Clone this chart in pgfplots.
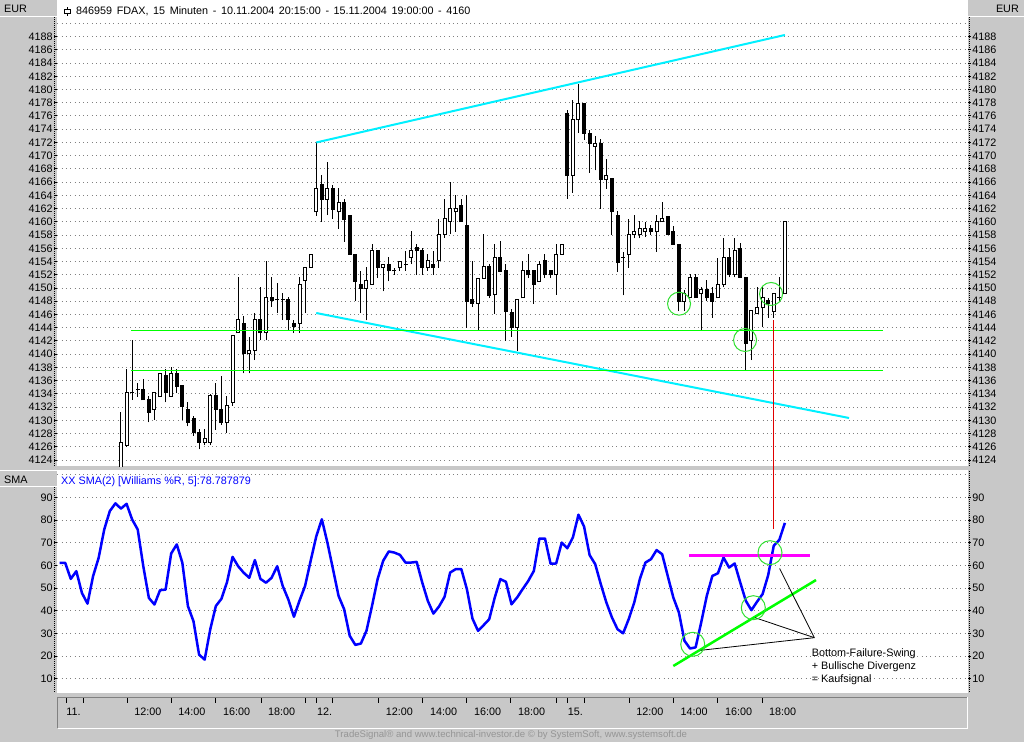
\documentclass[border=0pt]{standalone}
\usepackage{fontspec}
\setmainfont{Liberation Sans}
\usepackage{pgfplots}
\pgfplotsset{compat=1.18}
\usepackage{pgfplotstable}

\definecolor{bg}{HTML}{C8C8C8}
\definecolor{gridc}{HTML}{808080}
\definecolor{cyanc}{HTML}{00F0FF}
\definecolor{limec}{HTML}{00FF00}
\definecolor{circc}{HTML}{30E030}
\definecolor{magc}{HTML}{FF00FF}
\definecolor{oscblue}{HTML}{0000FF}
\definecolor{redc}{HTML}{E00000}
\definecolor{foot}{HTML}{959595}
\newcommand\lab{\fontsize{10.8bp}{13bp}\selectfont}

\pgfplotstableread{
i o h l c
11 4120.0 4131.3 4118.0 4126.7
12 4126.2 4137.8 4126.0 4134.2
13 4134.2 4142.1 4133.1 4134.2
14 4134.7 4135.6 4133.6 4134.7
15 4134.7 4136.2 4133.1 4133.1
16 4133.2 4133.7 4129.7 4131.2
17 4131.6 4134.2 4130.1 4134.2
18 4133.6 4137.1 4133.6 4137.1
19 4136.7 4137.7 4132.7 4134.2
20 4133.6 4138.1 4133.6 4137.1
21 4137.1 4137.7 4134.1 4135.1
22 4135.2 4135.2 4130.1 4132.1
23 4131.7 4132.7 4129.1 4129.7
24 4130.2 4130.7 4127.7 4128.2
25 4128.2 4128.7 4125.6 4126.7
26 4126.7 4128.7 4126.2 4127.2
27 4126.7 4134.0 4126.2 4133.7
28 4133.7 4135.6 4128.6 4131.7
29 4131.7 4136.7 4129.3 4129.7
30 4129.7 4133.7 4128.1 4132.2
31 4132.7 4142.8 4132.2 4142.8
32 4143.2 4151.7 4143.2 4145.2
33 4144.7 4145.7 4137.1 4140.1
34 4140.1 4142.6 4137.1 4140.6
35 4140.6 4146.2 4139.1 4145.2
36 4145.2 4150.2 4142.1 4143.2
37 4143.2 4154.1 4142.1 4148.6
38 4148.6 4151.7 4147.2 4148.1
39 4148.2 4150.7 4146.2 4148.2
40 4148.2 4149.2 4145.2 4148.2
41 4148.2 4148.7 4143.7 4145.2
42 4144.7 4145.2 4143.2 4144.2
43 4144.7 4151.7 4143.2 4150.6
44 4151.1 4153.1 4146.2 4153.1
45 4153.1 4155.1 4153.1 4155.1
46 4161.5 4172.0 4160.9 4165.1
47 4165.6 4167.1 4160.0 4163.4
48 4163.4 4169.0 4161.0 4165.1
49 4165.1 4165.6 4160.5 4161.9
50 4161.5 4165.1 4158.9 4162.9
51 4162.9 4163.4 4157.0 4160.4
52 4161.0 4161.0 4155.1 4155.1
53 4155.1 4155.1 4148.1 4151.0
54 4150.5 4152.5 4146.2 4150.0
55 4150.0 4153.2 4145.1 4151.2
56 4150.5 4156.6 4150.5 4155.6
57 4155.6 4155.6 4151.5 4153.1
58 4153.1 4153.6 4149.5 4153.6
59 4153.6 4154.7 4151.0 4152.6
60 4152.6 4153.1 4152.0 4152.6
61 4153.1 4154.0 4152.6 4154.0
62 4153.6 4155.6 4152.6 4153.6
63 4154.6 4158.6 4153.6 4155.6
64 4156.1 4156.6 4152.0 4155.6
65 4155.6 4156.1 4152.0 4153.1
66 4153.1 4155.1 4152.6 4154.1
67 4153.6 4155.6 4152.0 4153.1
68 4154.1 4160.5 4153.1 4158.1
69 4158.1 4163.5 4157.6 4160.5
70 4160.1 4166.1 4158.1 4162.0
71 4161.5 4164.0 4158.5 4162.0
72 4162.5 4163.5 4160.0 4160.0
73 4159.5 4164.0 4144.0 4148.0
74 4148.2 4154.1 4147.1 4147.7
75 4147.7 4151.5 4143.6 4151.5
76 4151.5 4158.1 4151.5 4153.2
77 4153.2 4153.6 4148.5 4148.9
78 4149.0 4156.6 4146.1 4154.6
79 4154.6 4157.1 4152.5 4152.5
80 4152.6 4153.6 4142.0 4146.5
81 4146.3 4146.8 4142.6 4144.0
82 4144.1 4148.2 4140.5 4148.2
83 4148.5 4154.1 4148.5 4152.6
84 4152.6 4155.1 4151.5 4152.0
85 4152.6 4152.6 4147.6 4150.5
86 4151.0 4154.1 4151.0 4153.6
87 4154.1 4155.1 4151.5 4152.0
88 4152.6 4152.6 4151.5 4152.0
89 4152.0 4156.6 4149.0 4155.1
90 4155.1 4156.6 4155.1 4156.6
91 4176.4 4176.9 4163.5 4167.0
92 4167.0 4178.4 4164.4 4175.4
93 4175.4 4180.8 4173.4 4177.9
94 4177.9 4177.9 4172.4 4173.4
95 4173.4 4173.9 4167.4 4171.9
96 4171.4 4173.0 4167.8 4171.9
97 4171.9 4172.5 4162.0 4166.4
98 4166.4 4169.5 4165.0 4167.0
99 4166.5 4166.5 4158.0 4161.5
100 4161.0 4161.6 4152.4 4153.9
101 4154.6 4155.5 4148.9 4154.6
102 4155.1 4160.5 4153.1 4158.1
103 4158.1 4161.0 4157.5 4158.6
104 4158.1 4160.1 4157.5 4159.0
105 4158.5 4160.0 4157.7 4159.0
106 4159.0 4159.5 4158.0 4158.5
107 4158.5 4161.0 4155.5 4160.0
108 4160.0 4163.0 4160.0 4160.5
109 4160.8 4160.8 4158.1 4158.1
110 4158.5 4159.4 4156.6 4156.6
111 4156.6 4156.6 4146.5 4148.0
112 4148.0 4149.7 4146.5 4149.1
113 4148.5 4152.1 4148.5 4151.6
114 4151.6 4152.1 4148.5 4148.5
115 4149.1 4150.1 4143.7 4149.7
116 4149.7 4151.2 4148.0 4148.5
117 4149.1 4150.1 4145.5 4148.0
118 4148.5 4154.6 4148.5 4150.6
119 4150.6 4157.6 4150.1 4154.6
120 4154.6 4156.1 4151.6 4152.1
121 4152.1 4157.5 4151.6 4155.6
122 4156.0 4156.8 4151.6 4151.6
123 4151.6 4151.6 4137.6 4141.6
124 4142.1 4146.6 4139.1 4146.6
125 4146.1 4150.1 4146.1 4147.0
126 4147.0 4150.1 4144.1 4148.5
127 4148.1 4148.5 4145.5 4147.6
128 4146.5 4149.1 4145.5 4149.1
129 4148.6 4151.6 4148.0 4148.6
130 4149.1 4160.0 4149.1 4160.0
}\candles

\pgfplotstableread{
i v
0 61.2
1 61.2
2 54.1
3 57.5
4 47.9
5 43.2
6 55.3
7 63.4
8 75.9
9 84.0
10 87.4
11 85.1
12 87.2
13 80.3
14 75.9
15 59.7
16 45.7
17 42.8
18 49.1
19 49.4
20 65.3
21 69.3
22 61.2
23 42.1
24 35.4
25 20.7
26 18.5
27 31.8
28 42.1
29 45.3
30 52.6
31 63.8
32 59.7
33 56.8
34 54.6
35 62.4
36 54.1
37 52.4
38 54.6
39 59.7
40 50.9
41 45.0
42 37.4
43 44.5
44 51.0
45 62.1
46 72.8
47 80.4
48 70.1
49 58.4
50 46.6
51 40.7
52 29.0
53 25.0
54 25.6
55 31.2
56 42.2
57 54.0
58 62.1
59 66.2
60 65.7
61 64.7
62 61.3
63 61.3
64 61.6
65 52.5
66 44.4
67 38.8
68 41.9
69 46.2
70 56.9
71 58.4
72 58.4
73 49.6
74 36.6
75 31.2
76 33.7
77 36.3
78 45.9
79 54.0
80 52.8
81 42.9
82 45.9
83 49.6
84 53.2
85 57.6
86 71.9
87 71.9
88 60.8
89 60.9
90 70.1
91 67.6
92 72.4
93 82.4
94 77.2
95 64.6
96 60.6
97 51.8
98 43.7
99 37.1
100 31.9
101 30.1
102 36.3
103 43.7
104 54.0
105 61.3
106 62.8
107 66.8
108 65.0
109 55.4
110 45.9
111 39.3
112 26.8
113 23.4
114 23.9
115 34.9
116 46.6
117 55.4
118 56.6
119 63.5
120 59.1
121 60.9
122 52.5
123 44.4
124 40.3
125 44.0
126 47.4
127 55.7
128 68.7
129 71.3
130 78.8
}\osc

\pgfplotsset{
  panel/.style={scale only axis, width=910.23bp, xmin=-0.4, xmax=162.75,
    axis line style={draw=none}, xtick=\empty,
    tick style={black, line width=1bp}, tick align=outside, major tick length=3bp,
    scaled y ticks=false,
    yticklabel style={font=\lab, inner sep=0pt},
    /pgf/number format/1000 sep={},
    /pgf/number format/assume math mode=true},
  gridsty/.style={ymajorgrids, grid style={gridc, line width=1bp, dash pattern=on 1bp off 3.3bp}},
}

\begin{document}
\begin{tikzpicture}[x=1bp,y=1bp]
\useasboundingbox (0,0) rectangle (1024,742);
\fill[bg] (0,0) rectangle (1024,742);
\fill[white] (57.4,275.5) rectangle (967.6,742);
\fill[white] (57.4,49) rectangle (967.6,272);
% header cells
\draw[white, line width=1bp] (0,725.5) -- (56.5,725.5);
\draw[white, line width=1bp] (968,725.5) -- (1024,725.5);
\draw[white, line width=1bp] (0,271.5) -- (56.5,271.5);
\draw[white, line width=1bp] (0,255.5) -- (56.5,255.5);
\node[anchor=base west, inner sep=0pt, font=\lab] at (4,729.5) {EUR};
\node[anchor=base east, inner sep=0pt, font=\lab] at (1019,729.5) {EUR};
\node[anchor=base west, inner sep=0pt, font=\lab] at (4,258.7) {SMA};
% dotted strip lines
\draw[black, line width=1bp, dash pattern=on 1bp off 1bp] (54.5,724.5) -- (54.5,276);
\draw[black, line width=1bp, dash pattern=on 1bp off 1bp] (54.5,254.5) -- (54.5,49.5);
\draw[black, line width=1bp, dash pattern=on 1bp off 1bp] (969.5,724.5) -- (969.5,276);
\draw[black, line width=1bp, dash pattern=on 1bp off 1bp] (969.5,271) -- (969.5,49.5);
% title
\draw[line width=1bp] (67.7,734.7) -- (67.7,726);
\draw[line width=1bp, fill=white] (64.8,732.7) rectangle (70.8,728.7);
\node[anchor=base west, inner sep=0pt, font=\lab] at (76,727.3) {\spaceskip=4.6bp 846959 FDAX, 15 Minuten - 10.11.2004 20:15:00 - 15.11.2004 19:00:00 - 4160};

% ===== top panel =====
\begin{axis}[panel, gridsty, at={(57.37bp,275.5bp)}, anchor=south west, height=466.5bp,
  ymin=4123.02, ymax=4193.54, ytick={4124,4126,...,4188},
  extra y ticks={4190}, extra y tick labels={}, extra y tick style={major tick length=0pt},
  ytick pos=left, yticklabel pos=left, yticklabel style={anchor=east, xshift=-1.5bp}]
% wicks
\addplot[black, line width=1bp, line cap=butt, mark=none, forget plot,
  quiver={u=0, v=\thisrow{h}-\thisrow{l}}] table[x=i, y=l] \candles;
% bodies (outer, black)
\addplot[black, line width=4bp, line cap=butt, mark=none, forget plot,
  quiver={u=0, v=abs(\thisrow{c}-\thisrow{o})+0.152}] table[x=i, y expr={min(\thisrow{o},\thisrow{c})-0.076}] \candles;
% bodies (inner, white for rising candles)
\addplot[white, line width=2bp, line cap=butt, mark=none, forget plot,
  quiver={u=0, v=\thisrow{c}-\thisrow{o}-0.152}] table[x=i, y expr={\thisrow{c}-\thisrow{o}>0.35 ? \thisrow{o}+0.076 : nan}] \candles;
\addplot[cyanc, line width=2bp] coordinates {(46,4172.0) (130,4188.25)};
\addplot[cyanc, line width=2bp] coordinates {(46,4146.22) (141.5,4130.35)};
\addplot[limec, line width=1.6bp] coordinates {(12.8,4143.6) (147.6,4143.6)};
\addplot[limec, line width=1bp] coordinates {(12.8,4137.55) (80.2,4137.55)};
\addplot[limec, line width=1.6bp] coordinates {(80.2,4137.55) (147.6,4137.55)};
\addplot[only marks, mark=o, mark size=11.5bp, mark options={circc, line width=1bp}] coordinates {(111.03,4147.63) (122.86,4142.14) (127.52,4149.1)};
\end{axis}
\begin{axis}[panel, at={(57.37bp,275.5bp)}, anchor=south west, height=466.5bp,
  ymin=4123.02, ymax=4193.54, ytick={4124,4126,...,4188},
  ytick pos=right, yticklabel pos=right, yticklabel style={anchor=west, xshift=1.5bp}]
\end{axis}

% ===== bottom panel =====
\begin{axis}[panel, gridsty, at={(57.37bp,49bp)}, anchor=south west, height=223bp,
  ymin=3.78, ymax=102.13, ytick={10,20,...,90},
  extra y ticks={100}, extra y tick labels={}, extra y tick style={major tick length=0pt},
  ytick pos=left, yticklabel pos=left, yticklabel style={anchor=east, xshift=-1.5bp}, clip=false]
\addplot[oscblue, line width=2.5bp, line join=round] table[x=i, y=v] \osc;
\addplot[magc, line width=3bp] coordinates {(112.9,64.2) (134.5,64.2)};
\addplot[limec, line width=2.5bp] coordinates {(110.0,15.69) (135.58,53.6)};
\addplot[black, line width=0.8bp] coordinates {(129.05,58.69) (135.28,28.17)};
\addplot[black, line width=0.8bp] coordinates {(124.65,36.99) (135.28,28.17)};
\addplot[black, line width=0.8bp] coordinates {(114.91,22.61) (135.28,28.17)};
\addplot[only marks, mark=o, mark size=12bp, mark options={circc, line width=1bp}] coordinates {(113.48,25.26) (124.34,41.4) (127.33,65.66)};
\addplot[redc, line width=1bp] coordinates {(128,76.1) (128,168.3)};
\end{axis}
\begin{axis}[panel, at={(57.37bp,49bp)}, anchor=south west, height=223bp,
  ymin=3.78, ymax=102.13, ytick={10,20,...,90},
  ytick pos=right, yticklabel pos=right, yticklabel style={anchor=west, xshift=1.5bp}]
\end{axis}

\node[anchor=base west, inner sep=0pt, font=\lab, text=oscblue] at (61,257.7) {XX SMA(2) [Williams \%R, 5]:78.787879};
\node[anchor=north west, align=left, inner sep=0pt, font=\lab] at (811.7,93.7) {Bottom-Failure-Swing\\+ Bullische Divergenz\\= Kaufsignal};

% ===== date strip =====
\draw[gridc, line width=1bp] (57.5,13.5) -- (57.5,44.5) -- (967.5,44.5);
\draw[white, line width=1bp] (57.5,13.5) -- (967.5,13.5) -- (967.5,44.5);
\begin{axis}[scale only axis, width=910.23bp, height=30bp, at={(57.37bp,14bp)}, anchor=south west,
  xmin=-0.4, xmax=162.75, ymin=0, ymax=1, axis line style={draw=none}, ytick=\empty,
  xtick={1.2,4.2,12.1,20,28,36.1,44.1,46.1,49,57.2,65.1,73,80.9,89.1,91.05,94.1,102.1,110,118,125.9},
  xticklabels={{11.},{},{\hspace*{7bp}12:00},{\hspace*{7bp}14:00},{\hspace*{7bp}16:00},{\hspace*{7bp}18:00},{},{12.},{},{\hspace*{7bp}12:00},{\hspace*{7bp}14:00},{\hspace*{7bp}16:00},{\hspace*{7bp}18:00},{},{15.},{},{\hspace*{7bp}12:00},{\hspace*{7bp}14:00},{\hspace*{7bp}16:00},{\hspace*{7bp}18:00}},
  xtick pos=top, xticklabel pos=top, tick align=inside, major tick length=5bp,
  tick style={black, line width=1bp},
  xticklabel style={font=\lab, anchor=north west, inner sep=0pt, yshift=-10bp}]
\end{axis}
\node[anchor=base, inner sep=0pt, font=\fontsize{9.6bp}{11bp}\selectfont, text=foot] at (511,4) {TradeSignal® and www.technical-investor.de © by SystemSoft, www.systemsoft.de};
\end{tikzpicture}
\end{document}
